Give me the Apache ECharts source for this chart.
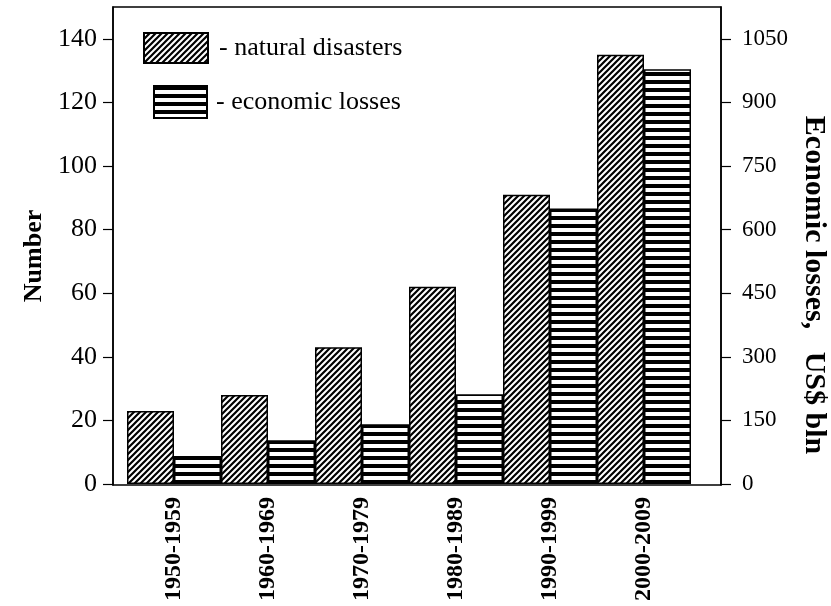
<!DOCTYPE html>
<html>
<head>
<meta charset="utf-8">
<script src="https://cdn.jsdelivr.net/npm/echarts@6/dist/echarts.min.js"></script>
<style>
html,body{margin:0;padding:0;background:#fff;overflow:hidden;}
#chart{width:831px;height:606px;}
</style>
</head>
<body>
<div id="chart"></div>
<script>
const categories = ['1950-1959','1960-1969','1970-1979','1980-1989','1990-1999','2000-2009'];
const naturalDisasters = [23, 28, 43, 62, 91, 135];
const economicLosses = [66, 103, 141, 212, 650, 978];
const leftTicks = [0, 20, 40, 60, 80, 100, 120, 140];
const rightTicks = [0, 150, 300, 450, 600, 750, 900, 1050];

function diagPattern() {
  const s = 6;
  const c = document.createElement('canvas');
  c.width = s; c.height = s;
  const g = c.getContext('2d');
  g.fillStyle = '#fff'; g.fillRect(0, 0, s, s);
  g.strokeStyle = '#000'; g.lineWidth = 2.2;
  g.beginPath();
  g.moveTo(-1, 1); g.lineTo(1, -1);
  g.moveTo(0, s); g.lineTo(s, 0);
  g.moveTo(s - 1, s + 1); g.lineTo(s + 1, s - 1);
  g.stroke();
  return { image: c, repeat: 'repeat' };
}
function stripePattern() {
  const c = document.createElement('canvas');
  c.width = 8; c.height = 8;
  const g = c.getContext('2d');
  g.fillStyle = '#fff'; g.fillRect(0, 0, 8, 8);
  g.fillStyle = '#000'; g.fillRect(0, 0, 8, 4);
  return { image: c, repeat: 'repeat' };
}

const FONT = 'Liberation Serif';
const chart = echarts.init(document.getElementById('chart'), null, { renderer: 'canvas' });

const leftMin = -0.3, leftMax = 150;
const rightMin = -2.25, rightMax = 1125;
const plain = v => String(v);

chart.setOption({
  backgroundColor: '#fff',
  animation: false,
  textStyle: { fontFamily: FONT, color: '#000' },
  grid: [
    { left: 113, right: 110, top: 7, bottom: 121, show: true, borderColor: '#000', borderWidth: 1.5, backgroundColor: 'transparent', containLabel: false, outerBoundsMode: 'none' },
    { left: 127, right: 140, top: 7, bottom: 121, containLabel: false, outerBoundsMode: 'none' }
  ],
  legend: [
    {
      data: ['natural disasters'], left: 143, top: 32, padding: 0,
      itemWidth: 64, itemHeight: 30, icon: 'rect', selectedMode: false,
      formatter: '- {name}',
      textStyle: { fontFamily: FONT, fontSize: 26, color: '#000', padding: [0, 0, 0, 6] }
    },
    {
      data: ['economic losses'], left: 153, top: 85, padding: 0,
      itemWidth: 53, itemHeight: 32, icon: 'rect', selectedMode: false,
      formatter: '- {name}',
      textStyle: { fontFamily: FONT, fontSize: 26, color: '#000', padding: [0, 0, 0, 4] }
    }
  ],
  xAxis: [
    { gridIndex: 0, type: 'category', data: categories, show: false },
    {
      gridIndex: 1, type: 'category', data: categories,
      axisLine: { show: false }, axisTick: { show: false },
      axisLabel: { rotate: 90, margin: 12, fontFamily: FONT, fontSize: 24, fontWeight: 'bold', color: '#000', interval: 0 }
    }
  ],
  yAxis: [
    {
      gridIndex: 0, type: 'value', position: 'left', min: leftMin, max: leftMax,
      name: 'Number', nameLocation: 'middle', nameGap: 64, nameRotate: 90,
      nameTextStyle: { fontFamily: FONT, fontSize: 26, fontWeight: 'bold', color: '#000', padding: [0, 20, 0, 0] },
      axisLine: { show: true, lineStyle: { color: '#000', width: 1.5 } },
      axisTick: { show: true, inside: false, length: 10, lineStyle: { color: '#000', width: 1.2 }, customValues: leftTicks },
      axisLabel: { margin: 16, fontFamily: FONT, fontSize: 26, color: '#000', customValues: leftTicks, formatter: plain },
      splitLine: { show: false }
    },
    {
      gridIndex: 0, type: 'value', position: 'right', min: rightMin, max: rightMax,
      name: 'Economic losses,   US$ bln', nameLocation: 'middle', nameGap: 76, nameRotate: -90,
      nameTextStyle: { fontFamily: FONT, fontSize: 30, fontWeight: 'bold', color: '#000', padding: [0, 0, 0, 78] },
      axisLine: { show: true, lineStyle: { color: '#000', width: 1.5 } },
      axisTick: { show: true, inside: false, length: 10, lineStyle: { color: '#000', width: 1.2 }, customValues: rightTicks },
      axisLabel: { margin: 21, fontFamily: FONT, fontSize: 23, color: '#000', customValues: rightTicks, formatter: plain },
      splitLine: { show: false }
    },
    { gridIndex: 1, type: 'value', min: leftMin, max: leftMax, show: false, splitLine: { show: false } },
    { gridIndex: 1, type: 'value', min: rightMin, max: rightMax, show: false, splitLine: { show: false } }
  ],
  series: [
    {
      name: 'natural disasters', type: 'bar', xAxisIndex: 1, yAxisIndex: 2,
      data: naturalDisasters, barGap: '0%', barCategoryGap: '0%',
      itemStyle: { color: diagPattern(), borderColor: '#000', borderWidth: 1.5 }
    },
    {
      name: 'economic losses', type: 'bar', xAxisIndex: 1, yAxisIndex: 3,
      data: economicLosses, barGap: '0%', barCategoryGap: '0%',
      itemStyle: { color: stripePattern(), borderColor: '#000', borderWidth: 1.5 }
    }
  ]
});
</script>
</body>
</html>
